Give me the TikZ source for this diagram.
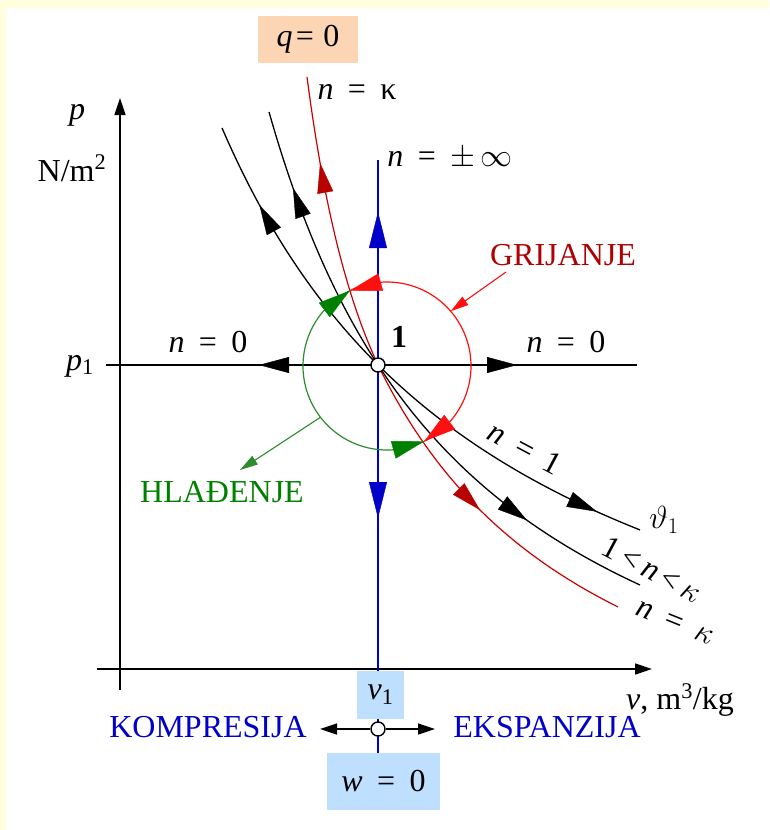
\RequirePackage{fix-cm}
\documentclass[tikz,border=0pt]{standalone}
\usepackage{fontspec}
\setmainfont{Liberation Serif}
\usetikzlibrary{arrows.meta}
\definecolor{cream}{HTML}{FFFFE0}
\definecolor{curvered}{HTML}{CC0000}
\definecolor{arrowred}{HTML}{B80000}
\definecolor{brightred}{HTML}{FF1010}
\definecolor{labelred}{HTML}{B00000}
\definecolor{dgreen}{HTML}{008000}
\definecolor{arcgreen}{HTML}{2E8B2E}
\definecolor{dblue}{HTML}{0000C8}
\definecolor{boxblue}{HTML}{BFDFFF}
\definecolor{peach}{HTML}{FCD5B4}
\newcommand{\myeq}{\hspace{0.45em}=\hspace{0.45em}}
\begin{document}
\begin{tikzpicture}[x=1pt,y=-1pt,
  font=\fontsize{32}{38}\selectfont,
  lab/.style={inner sep=0pt},
  axisline/.style={line width=1.6pt, -{Triangle[length=17pt,width=11pt]}},
  curveline/.style={line width=1.3pt},
  bigblack/.style={-{Triangle[length=30pt,width=16pt]}},
  bigblue/.style={dblue, -{Triangle[length=36pt,width=18pt]}},
  bigred/.style={arrowred, -{Triangle[length=30pt,width=16pt]}},
  loopred/.style={brightred, -{Triangle[length=32pt,width=18pt]}},
  loopgreen/.style={dgreen, -{Triangle[length=32pt,width=18pt]}},
  smallarrow/.style={line width=1.3pt, -{Triangle[length=17pt,width=11pt]}},
  pointer/.style={line width=1.1pt, -{Triangle[length=18pt,width=10pt]}},
  dot/.style={circle, draw, fill=white, minimum size=14pt, inner sep=0pt, line width=1.4pt}]
\useasboundingbox (0,0) rectangle (769,830);
\fill[cream] (0,0) rectangle (769,830);
\fill[white] (6,8) rectangle (769,830);

% axes
\draw[axisline] (120,690) -- (120,98);
\draw[axisline] (97,669) -- (652,669);
\node[lab] (plab) at (77,115) {\textit{p}};
\node[lab] (punit) at (72,168) {N/m\textsuperscript{2}};
\node[lab] (vlab) at (680,700) {\textit{v}, m\textsuperscript{3}/kg};

% isobar n = 0
\draw[line width=1.4pt] (106,365) -- (637,365);
\node[lab] (p1lab) at (80,366) {\textit{p}\textsubscript{1}};
\draw[bigblack] (291,365) -- (259,365);
\draw[bigblack] (485,365) -- (517,365);
\node[lab] (n0l) at (208,342) {\textit{n}\myeq 0};
\node[lab] (n0r) at (566,342) {\textit{n}\myeq 0};

% isochore n = +-inf
\draw[dblue, line width=1.3pt] (378,160) -- (378,753);
\draw[bigblue] (378,248) -- (378,212);
\draw[bigblue] (378,482) -- (378,518);
\node[lab] (ninf) at (450,158) {\textit{n}\myeq$\pm\,\infty$};

% polytropes
\draw[curveline] plot[domain=222:640, samples=80] (\x, {814.5-2031.5/((\x+73.9)/100)});
\draw[curveline] plot[domain=269:640, samples=80] (\x, {853.1-1558.6/((\x-58.7)/100)});
\draw[curvered, line width=1.2pt]
  plot[domain=307:378, samples=40] (\x, {691.1-493.76/((\x-226.6)/100)})
  -- plot[domain=378:618, samples=80] (\x, {843.6-1123.37/((\x-143.3)/100)});

\draw[bigblack] (273.9,231.3) -- (259.4,205);
\draw[bigblack] (569.6,499.4) -- (597,511.7);
\draw[bigblack] (303,216.2) -- (293,188);
\draw[bigblack] (502.6,502.9) -- (527,520.3);
\draw[bigred] (325.3,192.5) -- (320.1,163);
\draw[bigred] (458.7,488.9) -- (480,510);

% heating / cooling loop
\coordinate (C) at (387,366);
\coordinate (LA) at ([shift={(-116.26:84)}]C);
\coordinate (LB) at ([shift={(63.74:84)}]C);
\draw[brightred, line width=1.2pt] (LA) arc[start angle=-116.26, end angle=63.74, radius=84];
\draw[arcgreen, line width=1.2pt] (LA) arc[start angle=243.74, end angle=63.74, radius=84];
\draw[loopred] ([shift={(-94.4:84)}]C) -- (LA);
\draw[loopred] ([shift={(41.9:84)}]C) -- (LB);
\draw[loopgreen] ([shift={(221.9:84)}]C) -- (LA);
\draw[loopgreen] ([shift={(85.5:84)}]C) -- (LB);

\node[lab, text=labelred] (grij) at (563,255) {GRIJANJE};
\coordinate (gstart) at (506,272);
\coordinate (gend) at ([shift={(-40.7:84)}]C);
\draw[pointer, brightred] (gstart) -- (gend);

\node[lab, text=dgreen] (hlad) at (222,492) {HLAĐENJE};
\coordinate (hstart) at ([shift={(142.4:84)}]C);
\coordinate (hend) at (240,470);
\draw[pointer, arcgreen] (hstart) -- (hend);

% state point 1
\node[dot] (P1) at (378,365) {};
\node[lab] (one) at (399,337) {\textbf{1}};

% curve labels
\node[fill=peach, minimum width=100pt, minimum height=47pt, inner sep=0pt] (qbox) at (308,39.5) {\textit{q}\hspace{0.1em}=\hspace{0.3em}0};
\node[lab] (nk) at (357,92) {\textit{n}\myeq κ};
\node[lab, rotate=-28] (n1) at (525,448) {\textit{n}\myeq 1};
\node[lab] (th) at (664,520) {$\vartheta_1$};
\node[lab, rotate=-28] (nmid) at (652,569) {1\,<\,\textit{n}\,<\,$\kappa$};
\node[lab, rotate=-22] (nkap) at (675,623) {\textit{n}\myeq$\kappa$};

% bottom: work
\node[fill=boxblue, minimum width=47pt, minimum height=48pt, inner sep=0pt] (v1box) at (380.5,695) {\textit{v}\textsubscript{1}};
\node[fill=boxblue, minimum width=113pt, minimum height=57pt, inner sep=0pt] (wbox) at (383.5,781.5) {\textit{w}\myeq 0};
\node[dot] (P2) at (378,729) {};
\coordinate (kt) at (320,729);
\coordinate (et) at (435,729);
\draw[smallarrow] (P2) -- (kt);
\draw[smallarrow] (P2) -- (et);
\node[lab, text=dblue] (komp) at (208,727) {KOMPRESIJA};
\node[lab, text=dblue] (eksp) at (547,727) {EKSPANZIJA};
\end{tikzpicture}
\end{document}
